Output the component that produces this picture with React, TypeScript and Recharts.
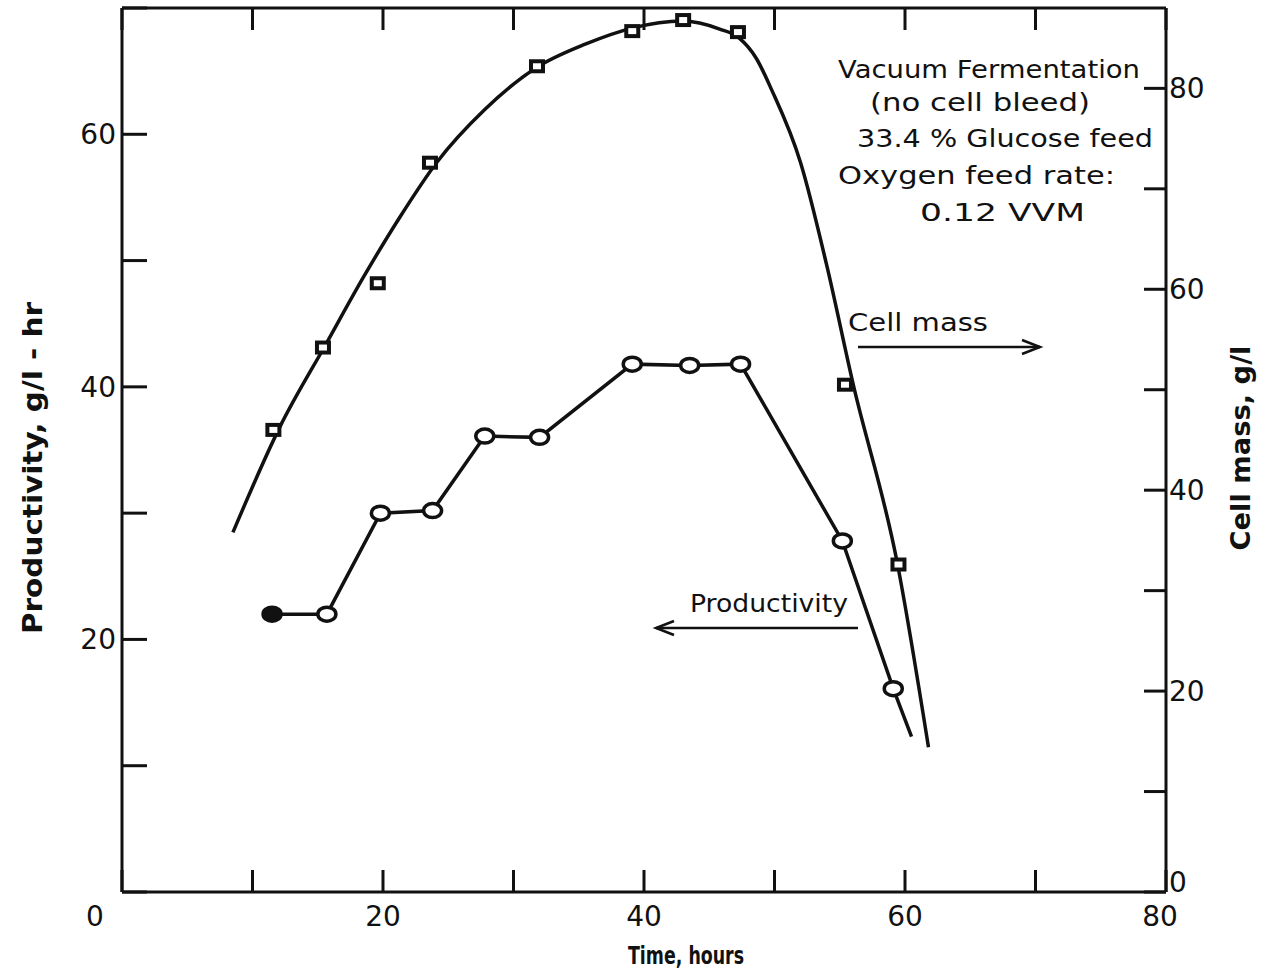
import React from 'react';
import { ComposedChart, Line, XAxis, YAxis, Customized } from 'recharts';

// Cell mass smooth curve (hours, g/l)
const cellCurveTime = [8.5, 12.1, 15.7, 18.5, 21.3, 24.1, 27.8, 31.8, 35.5, 39.1, 42.9, 45.8, 47.3, 48.6, 49.8, 52.0, 54.0, 56.0, 59.4, 61.8];
const cellCurveValue = [35.8, 46.3, 54.7, 61.2, 67.2, 72.6, 77.9, 82.1, 84.4, 86.0, 86.7, 85.9, 85.0, 83.0, 79.8, 72.6, 62.4, 50.7, 32.8, 14.4];

// Cell mass measured points (square markers)
const cellMarkTime = [11.6, 15.4, 19.6, 23.6, 31.8, 39.1, 43.0, 47.2, 55.4, 59.5];
const cellMarkValue = [46.0, 54.2, 60.6, 72.6, 82.2, 85.7, 86.8, 85.6, 50.5, 32.6];

// Productivity measured points (circle markers), g/l-hr
const prodTime = [11.5, 15.7, 19.8, 23.8, 27.8, 32.0, 39.1, 43.5, 47.4, 55.2, 59.1];
const prodValue = [22.0, 22.0, 30.0, 30.2, 36.1, 36.0, 41.8, 41.7, 41.8, 27.8, 16.1];
const prodEndTime = [60.5];
const prodEndValue = [12.3];

const timeTicks = [0, 10, 20, 30, 40, 50, 60, 70, 80];
const prodTicks = [0, 10, 20, 30, 40, 50, 60, 70];
const massTicks = [0, 10, 20, 30, 40, 50, 60, 70, 80];

const cellCurve = cellCurveTime.map((t, i) => ({ t, v: cellCurveValue[i] }));
const cellMarks = cellMarkTime.map((t, i) => ({ t, v: cellMarkValue[i] }));
const prodLine = [...prodTime, ...prodEndTime].map((t, i) => ({
  t,
  v: i < prodValue.length ? prodValue[i] : prodEndValue[i - prodValue.length],
}));
const prodMarks = prodTime.map((t, i) => ({ t, v: prodValue[i] }));

const FONT = '"DejaVu Sans", "Liberation Sans", sans-serif';
const INK = '#111';

const BottomTick = (props: any) => {
  const { x, y, payload } = props;
  const v = payload.value;
  if (v % 20 !== 0) return <g />;
  let dx = 0;
  if (v === 0) dx = -27;
  if (v === 80) dx = -6;
  return (
    <text x={x + dx} y={y + 34} textAnchor="middle" fontFamily={FONT} fontSize={28} fill={INK}>
      {v}
    </text>
  );
};

const LeftTick = (props: any) => {
  const { x, y, payload } = props;
  const v = payload.value;
  if (v === 0 || v % 20 !== 0) return <g />;
  return (
    <text x={x - 6} y={y + 10} textAnchor="end" fontFamily={FONT} fontSize={28} fill={INK}>
      {v}
    </text>
  );
};

const RightTick = (props: any) => {
  const { x, y, payload } = props;
  const v = payload.value;
  if (v % 20 !== 0) return <g />;
  const dy = v === 0 ? -10 : 0;
  return (
    <text x={x + 3} y={y + 10 + dy} textAnchor="start" fontFamily={FONT} fontSize={28} fill={INK}>
      {v}
    </text>
  );
};

const EmptyTick = () => <g />;

const SquareDot = (props: any) => {
  const { cx, cy, index } = props;
  if (cx == null || cy == null) return <g key={`s${index}`} />;
  return (
    <rect key={`s${index}`} x={cx - 6} y={cy - 5} width={12} height={10} fill="#fff" stroke={INK} strokeWidth={4} />
  );
};

const CircleDot = (props: any) => {
  const { cx, cy, index } = props;
  if (cx == null || cy == null) return <g key={`c${index}`} />;
  return (
    <ellipse key={`c${index}`} cx={cx} cy={cy} rx={9} ry={7} fill={index === 0 ? INK : '#fff'} stroke={INK} strokeWidth={3.5} />
  );
};

const Annotations = () => (
  <g fontFamily={FONT} fill={INK}>
    <text x={838} y={78} fontSize={24} textLength={302} lengthAdjust="spacingAndGlyphs">Vacuum Fermentation</text>
    <text x={870} y={111} fontSize={24} textLength={220} lengthAdjust="spacingAndGlyphs">(no cell bleed)</text>
    <text x={857} y={147} fontSize={24} textLength={296} lengthAdjust="spacingAndGlyphs">33.4 % Glucose feed</text>
    <text x={838} y={184} fontSize={24} textLength={277} lengthAdjust="spacingAndGlyphs">Oxygen feed rate:</text>
    <text x={920} y={221} fontSize={24} textLength={165} lengthAdjust="spacingAndGlyphs">0.12 VVM</text>

    <text x={848} y={331} fontSize={24} textLength={140} lengthAdjust="spacingAndGlyphs">Cell mass</text>
    <line x1={858} y1={347} x2={1040} y2={347} stroke={INK} strokeWidth={2.5} />
    <path d="M1022,340 L1040,347 L1022,354" fill="none" stroke={INK} strokeWidth={2.5} />

    <text x={690} y={612} fontSize={24} textLength={158} lengthAdjust="spacingAndGlyphs">Productivity</text>
    <line x1={656} y1={628} x2={858} y2={628} stroke={INK} strokeWidth={2.5} />
    <path d="M674,621 L656,628 L674,635" fill="none" stroke={INK} strokeWidth={2.5} />

    <text
      x={0}
      y={0}
      fontSize={26}
      fontWeight="bold"
      textLength={332}
      lengthAdjust="spacingAndGlyphs"
      textAnchor="middle"
      transform="translate(42,468) rotate(-90)"
    >
      Productivity,  g/l - hr
    </text>
    <text
      x={0}
      y={0}
      fontSize={26}
      fontWeight="bold"
      textLength={205}
      lengthAdjust="spacingAndGlyphs"
      textAnchor="middle"
      transform="translate(1250,448) rotate(-90)"
    >
      Cell mass, g/l
    </text>
    <text x={686} y={964} fontSize={24} fontWeight="bold" textAnchor="middle" textLength={116} lengthAdjust="spacingAndGlyphs">
      Time, hours
    </text>
  </g>
);

export default function App() {
  return (
    <div style={{ position: 'absolute', left: 0, top: 0, width: 1266, height: 977, background: '#fff' }}>
      <ComposedChart width={1266} height={977} margin={{ top: 0, right: 0, bottom: 0, left: 0 }}>
        <XAxis
          xAxisId="bottom"
          type="number"
          dataKey="t"
          domain={[0, 80]}
          ticks={timeTicks}
          height={85}
          orientation="bottom"
          tickSize={-22}
          tickMargin={22}
          axisLine={{ stroke: INK, strokeWidth: 3 }}
          tickLine={{ stroke: INK, strokeWidth: 3 }}
          tick={<BottomTick />}
          interval={0}
          allowDataOverflow
        />
        <XAxis
          xAxisId="top"
          type="number"
          dataKey="t"
          domain={[0, 80]}
          ticks={timeTicks}
          height={8}
          orientation="top"
          tickSize={-22}
          tickMargin={0}
          axisLine={{ stroke: INK, strokeWidth: 3 }}
          tickLine={{ stroke: INK, strokeWidth: 3 }}
          tick={<EmptyTick />}
          interval={0}
          allowDataOverflow
        />
        <YAxis
          yAxisId="left"
          type="number"
          domain={[0, 70]}
          ticks={prodTicks}
          width={122}
          orientation="left"
          tickSize={-25}
          tickMargin={25}
          axisLine={{ stroke: INK, strokeWidth: 3 }}
          tickLine={{ stroke: INK, strokeWidth: 3 }}
          tick={<LeftTick />}
          interval={0}
          allowDataOverflow
        />
        <YAxis
          yAxisId="right"
          type="number"
          domain={[0, 88]}
          ticks={massTicks}
          width={100}
          orientation="right"
          tickSize={-22}
          tickMargin={22}
          axisLine={{ stroke: INK, strokeWidth: 3 }}
          tickLine={{ stroke: INK, strokeWidth: 3 }}
          tick={<RightTick />}
          interval={0}
          allowDataOverflow
        />
        <Line
          xAxisId="bottom"
          yAxisId="right"
          data={cellCurve}
          dataKey="v"
          type="monotone"
          stroke={INK}
          strokeWidth={3.5}
          dot={false}
          activeDot={false}
          isAnimationActive={false}
        />
        <Line
          xAxisId="bottom"
          yAxisId="right"
          data={cellMarks}
          dataKey="v"
          stroke="none"
          dot={SquareDot}
          activeDot={false}
          isAnimationActive={false}
        />
        <Line
          xAxisId="bottom"
          yAxisId="left"
          data={prodLine}
          dataKey="v"
          type="linear"
          stroke={INK}
          strokeWidth={3.5}
          dot={false}
          activeDot={false}
          isAnimationActive={false}
        />
        <Line
          xAxisId="bottom"
          yAxisId="left"
          data={prodMarks}
          dataKey="v"
          stroke="none"
          dot={CircleDot}
          activeDot={false}
          isAnimationActive={false}
        />
        <Customized component={Annotations} />
      </ComposedChart>
    </div>
  );
}
